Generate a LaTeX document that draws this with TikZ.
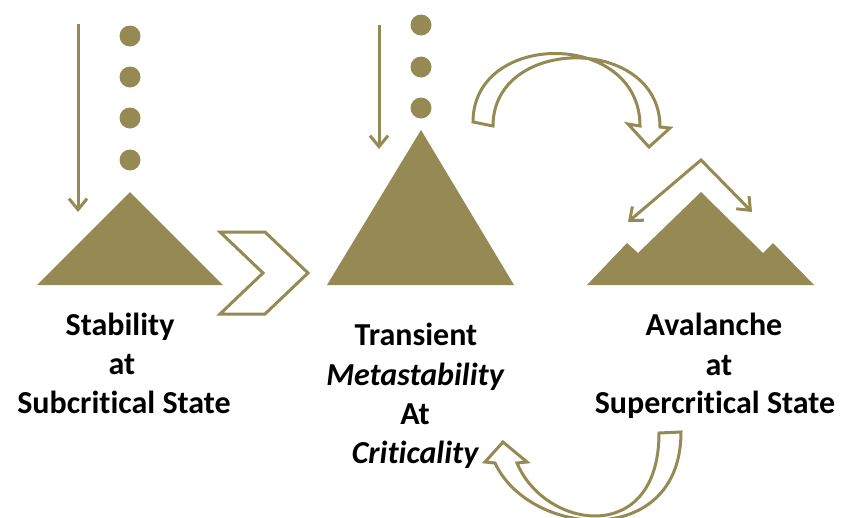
\documentclass[tikz,border=0pt]{standalone}
\usepackage{fontspec}
\setmainfont{Carlito}[Ligatures={NoCommon}]
\usetikzlibrary{arrows.meta}
\definecolor{sand}{RGB}{149,138,84}
\begin{document}
\begin{tikzpicture}[x=1pt,y=-1pt,
  barb/.tip={Straight Barb[length=11pt,width=18pt]},
  pile/.style={fill=sand},
  grain/.style={fill=sand, circle, inner sep=0pt, minimum size=21pt},
  fall/.style={draw=sand, line width=3pt, -barb},
  spread/.style={draw=sand, line width=3pt, barb-barb, line join=miter},
  hollow/.style={draw=sand, line width=3pt, line join=miter},
  lbl/.style={font=\fontsize{32}{36}\selectfont\bfseries, anchor=base, inner sep=0pt}]
\useasboundingbox (0,0) rectangle (841,517);

% ---- subcritical pile ----
\coordinate (dropA) at (78,24);
\coordinate (landA) at (78,212);
\draw[fall] (dropA) -- (landA);
\node[grain] (a1) at (130,36) {};
\node[grain] (a2) at (130,77) {};
\node[grain] (a3) at (130,118) {};
\node[grain] (a4) at (130,160) {};
\fill[pile] (130,192) -- (223,285) -- (37,285) -- cycle;

% double chevron between first and second pile
\draw[hollow] (220,232) -- (265,232) -- (308,273) -- (265,314) -- (220,314) -- (263,273) -- cycle;

% ---- critical pile ----
\coordinate (dropB) at (379,25);
\coordinate (landB) at (379,149);
\draw[fall] (dropB) -- (landB);
\node[grain] (b1) at (421,25) {};
\node[grain] (b2) at (421,67) {};
\node[grain] (b3) at (421,108) {};
\fill[pile] (421,130) -- (514,285) -- (327,285) -- cycle;

% curved ribbon arrow over the top
\draw[hollow] (473,122) .. controls (473,30) and (640,30) .. (640,126)
  -- (628,124) -- (649,147) -- (670,128) -- (660,127)
  .. controls (660,35) and (493,35) .. (493,126) -- cycle;

% ---- supercritical pile ----
\fill[pile] (587,285) -- (627,243) -- (638,253) -- (701,192) -- (763,253)
  -- (773,243) -- (814,285) -- cycle;
\coordinate (slideL) at (628,222);
\coordinate (crest) at (701,160);
\coordinate (slideR) at (752,212);
\draw[spread] (slideL) -- (crest) -- (slideR);

% curved ribbon arrow along the bottom, running off the lower edge
\begin{scope}
\clip (0,0) rectangle (841,517);
\draw[hollow] (659,433) -- (681,432)
  .. controls (681,550) and (530,538) .. (495,463)
  -- (485,462) -- (503,442) -- (527,462) -- (517,463)
  .. controls (545,530) and (659,547) .. (659,433) -- cycle;
\end{scope}

% ---- captions ----
\node[lbl] (s1) at (120,335) {Stability};
\node[lbl] (s2) at (122,374) {at};
\node[lbl] (s3) at (124,413) {Subcritical State};
\node[lbl] (m1) at (416,345) {Transient};
\node[lbl] (m2) at (415,385) {\itshape Metastability};
\node[lbl] (m3) at (415,424) {At};
\node[lbl] (m4) at (415,463) {\itshape Criticality};
\node[lbl] (r1) at (714,335) {Avalanche};
\node[lbl] (r2) at (719,375) {at};
\node[lbl] (r3) at (715,413) {Supercritical State};
\end{tikzpicture}
\end{document}
